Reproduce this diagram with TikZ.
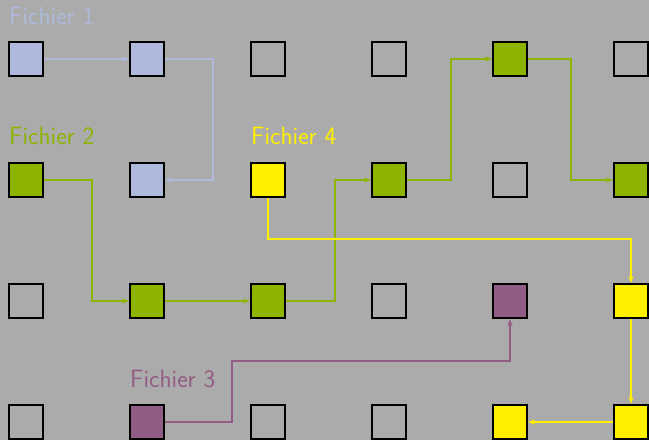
\documentclass[tikz,border=0pt]{standalone}
\usetikzlibrary{arrows.meta}
\definecolor{bgc}{HTML}{ABABAB}
\definecolor{fblue}{HTML}{AEB9DB}
\definecolor{fgreen}{HTML}{8CB400}
\definecolor{fyellow}{HTML}{FFF000}
\definecolor{fpurple}{HTML}{935C84}
\begin{document}
\begin{tikzpicture}[x=1pt,y=-1pt,
  cell/.style={draw=black, line width=1.6pt, minimum size=34.4pt, inner sep=0pt, outer sep=0.8pt},
  link/.style={line width=1.2pt, -{Stealth[length=7pt,width=5pt]}},
  lbl/.style={anchor=base west, inner sep=0pt, font=\sffamily\fontsize{25}{30}\selectfont}]
\fill[bgc] (0,0) rectangle (649,440);
\useasboundingbox (0,0) rectangle (649,440);
% row 1
\node[cell, fill=fblue]   (c11) at (26,59) {};
\node[cell, fill=fblue]   (c21) at (147,59) {};
\node[cell]               (c31) at (268,59) {};
\node[cell]               (c41) at (389,59) {};
\node[cell, fill=fgreen]  (c51) at (510,59) {};
\node[cell]               (c61) at (631,59) {};
% row 2
\node[cell, fill=fgreen]  (c12) at (26,180) {};
\node[cell, fill=fblue]   (c22) at (147,180) {};
\node[cell, fill=fyellow] (c32) at (268,180) {};
\node[cell, fill=fgreen]  (c42) at (389,180) {};
\node[cell]               (c52) at (510,180) {};
\node[cell, fill=fgreen]  (c62) at (631,180) {};
% row 3
\node[cell]               (c13) at (26,301) {};
\node[cell, fill=fgreen]  (c23) at (147,301) {};
\node[cell, fill=fgreen]  (c33) at (268,301) {};
\node[cell]               (c43) at (389,301) {};
\node[cell, fill=fpurple] (c53) at (510,301) {};
\node[cell, fill=fyellow] (c63) at (631,301) {};
% row 4
\node[cell]               (c14) at (26,422) {};
\node[cell, fill=fpurple] (c24) at (147,422) {};
\node[cell]               (c34) at (268,422) {};
\node[cell]               (c44) at (389,422) {};
\node[cell, fill=fyellow] (c54) at (510,422) {};
\node[cell, fill=fyellow] (c64) at (631,422) {};
% file labels
\node[lbl, text=fblue]   (l1) at (9,24)   {Fichier 1};
\node[lbl, text=fgreen]  (l2) at (9,144)  {Fichier 2};
\node[lbl, text=fyellow] (l4) at (251,144) {Fichier 4};
\node[lbl, text=fpurple] (l3) at (130,387) {Fichier 3};
% file 1
\draw[link, fblue] (c11.east) -- (c21.west);
\draw[link, fblue] (c21.east) -| (213,0 |- c22.east) -- (c22.east);
% file 2
\draw[link, fgreen] (c12.east) -| (92,0 |- c23.west) -- (c23.west);
\draw[link, fgreen] (c23.east) -- (c33.west);
\draw[link, fgreen] (c33.east) -| (335,0 |- c42.west) -- (c42.west);
\draw[link, fgreen] (c42.east) -| (451,0 |- c51.west) -- (c51.west);
\draw[link, fgreen] (c51.east) -| (571,0 |- c62.west) -- (c62.west);
% file 3
\draw[link, fpurple] (c24.east) -| (232,361) -| (c53.south);
% file 4
\draw[link, fyellow] (c32.south) -- (c32.south |- 0,239) -| (c63.north);
\draw[link, fyellow] (c63.south) -- (c64.north);
\draw[link, fyellow] (c64.west) -- (c54.east);
\end{tikzpicture}
\end{document}
